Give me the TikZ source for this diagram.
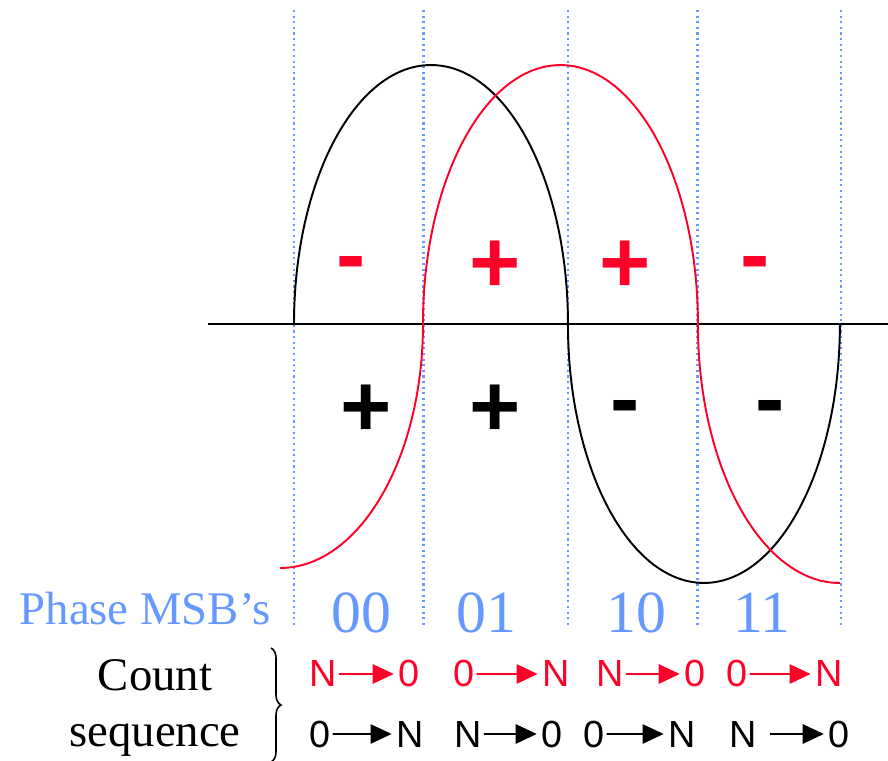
\documentclass[tikz,border=0pt]{standalone}
\usepackage{fontspec}
\setmainfont{Liberation Serif}
\setsansfont{Liberation Sans}
\usetikzlibrary{arrows.meta,decorations.pathreplacing}
\definecolor{wavered}{RGB}{255,0,40}
\definecolor{msbblue}{RGB}{102,153,255}

\begin{document}
\begin{tikzpicture}[
  x=0.02cm, y=0.02cm,
  wave/.style={line width=1.1pt},
  guide/.style={msbblue, dotted, line width=1.2pt},
  signlbl/.style={font=\sffamily\bfseries\fontsize{50}{50}\selectfont, inner sep=0pt, anchor=base},
  msblbl/.style={msbblue, font=\fontsize{34}{34}\selectfont, anchor=base, inner sep=0pt},
  txtlbl/.style={font=\fontsize{26.6}{30}\selectfont, anchor=base, inner sep=0pt},
  cntlbl/.style={font=\sffamily\fontsize{21.5}{21.5}\selectfont, anchor=base, inner sep=1pt},
  cnt/.style={->, line width=1.1pt, shorten >=1.5pt},
  >={Triangle[length=12pt,width=11pt]}
]
  \useasboundingbox (0,0) rectangle (888,760);

  \draw[guide] (294,750) -- (294,135);
  \draw[guide] (423.5,750) -- (423.5,135);
  \draw[guide] (568,750) -- (568,135);
  \draw[guide] (697.5,750) -- (697.5,135);
  \draw[guide] (841,750) -- (841,135);

  \draw[line width=1.4pt] (208,436) -- (888,436);

  \draw[wave] (294,436) arc[start angle=180, end angle=0, x radius=2.74cm, y radius=5.18cm]
    arc[start angle=180, end angle=360, x radius=2.72cm, y radius=5.18cm];
  \draw[wave, wavered] (280,192) arc[start angle=270, end angle=360, x radius=2.86cm, y radius=4.88cm]
    arc[start angle=180, end angle=0, x radius=2.75cm, y radius=5.18cm]
    arc[start angle=180, end angle=270, x radius=2.84cm, y radius=5.18cm];

  \node[signlbl, wavered] (rsa) at (351,475) {-};
  \node[signlbl, wavered] (rsb) at (495,467) {+};
  \node[signlbl, wavered] (rsc) at (625,467) {+};
  \node[signlbl, wavered] (rsd) at (755,475) {-};
  \node[signlbl] (ksa) at (366,323) {+};
  \node[signlbl] (ksb) at (495,323) {+};
  \node[signlbl] (ksc) at (625,331) {-};
  \node[signlbl] (ksd) at (770,331) {-};

  \node[txtlbl, msbblue] (msb) at (145,135) {Phase MSB’s};
  \node[msblbl] (m00) at (361,127) {00};
  \node[msblbl] (m01) at (486,127) {01};
  \node[msblbl] (m10) at (636,127) {10};
  \node[msblbl] (m11) at (762,127) {11};

  \node[txtlbl] (count) at (155,70) {Count};
  \node[txtlbl] (seq) at (155,14) {sequence};
  \draw[decorate, decoration={brace, amplitude=5.7pt}, line width=0.9pt] (271,112) -- (271,-2);

  \node[cntlbl, wavered] (ra1) at (323,73) {N};
  \node[cntlbl, wavered] (rb1) at (409,73) {0};
  \node[cntlbl, wavered] (ra2) at (464,73) {0};
  \node[cntlbl, wavered] (rb2) at (556,73) {N};
  \node[cntlbl, wavered] (ra3) at (610,73) {N};
  \node[cntlbl, wavered] (rb3) at (695,73) {0};
  \node[cntlbl, wavered] (ra4) at (737,73) {0};
  \node[cntlbl, wavered] (rb4) at (829,73) {N};
  \draw[cnt, wavered] (ra1) -- (rb1);
  \draw[cnt, wavered] (ra2) -- (rb2);
  \draw[cnt, wavered] (ra3) -- (rb3);
  \draw[cnt, wavered] (ra4) -- (rb4);

  \node[cntlbl] (ka1) at (320,13) {0};
  \node[cntlbl] (kb1) at (410,13) {N};
  \node[cntlbl] (ka2) at (468,13) {N};
  \node[cntlbl] (kb2) at (552,13) {0};
  \node[cntlbl] (ka3) at (594,13) {0};
  \node[cntlbl] (kb3) at (682,13) {N};
  \node[cntlbl] (ka4) at (743,13) {N};
  \node[cntlbl] (kb4) at (839,13) {0};
  \draw[cnt] (ka1) -- (kb1);
  \draw[cnt] (ka2) -- (kb2);
  \draw[cnt] (ka3) -- (kb3);
  \draw[cnt, shorten <=6.5pt] (ka4) -- (kb4);
\end{tikzpicture}
\end{document}
